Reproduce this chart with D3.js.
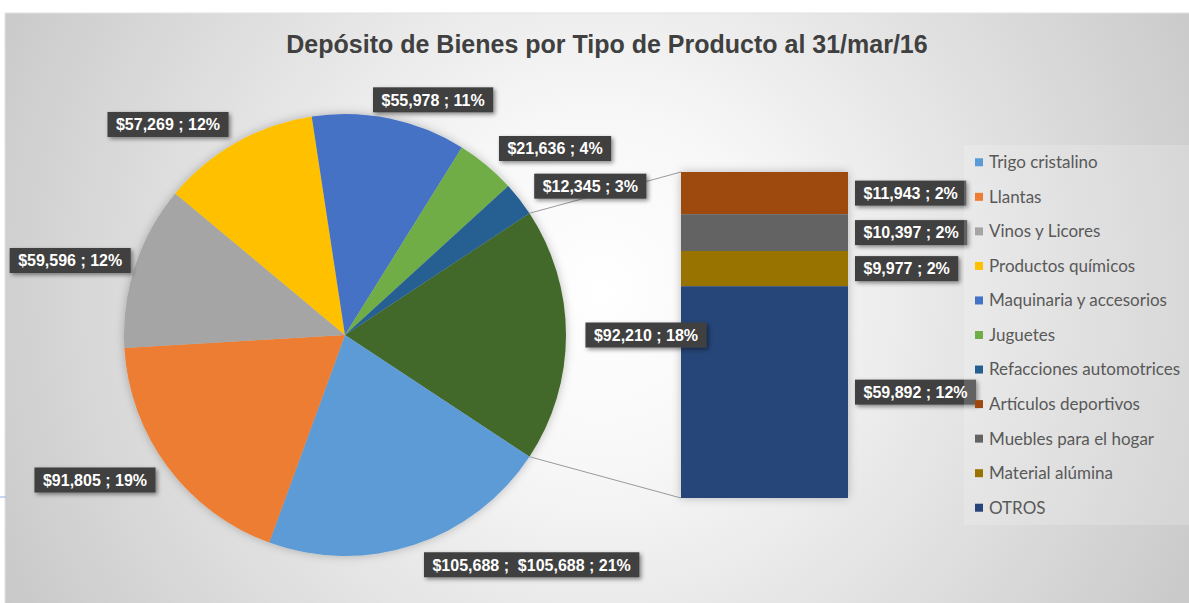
<!DOCTYPE html>
<html>
<head>
<meta charset="utf-8">
<script src="https://cdn.jsdelivr.net/npm/d3@7"></script>
<style>
  body { margin: 0; background: #fff; }
  .title { font-family: "Liberation Sans", Arial, sans-serif; font-weight: bold; font-size: 25px; fill: #404040; }
  .lbl text { font-family: "Liberation Sans", Arial, sans-serif; font-weight: bold; font-size: 16px; fill: #fff; }
  .legend text { font-family: Lato, "Open Sans", sans-serif; font-size: 17px; fill: #595959; }
</style>
</head>
<body>
<div id="chart"></div>
<script>
// ---- data ----
var pieNames = ['Trigo cristalino', 'Llantas', 'Vinos y Licores', 'Productos químicos',
                'Maquinaria y accesorios', 'Juguetes', 'Refacciones automotrices'];
var pieValues = [105688, 91805, 59596, 57269, 55978, 21636, 12345];
var piePct = [21, 19, 12, 12, 11, 4, 3];

var barNames = ['Artículos deportivos', 'Muebles para el hogar', 'Material alúmina', 'OTROS'];
var barValues = [11943, 10397, 9977, 59892];
var barPct = [2, 2, 2, 12];

var otherValue = 92210;
var otherPct = 18;

var title = 'Depósito de Bienes por Tipo de Producto al 31/mar/16';

// ---- styles / layout ----
var pieColors = ['#5b9bd5', '#ed7d31', '#a5a5a5', '#ffc000', '#4472c4', '#70ad47', '#255e91'];
var barColors = ['#9e480e', '#636363', '#997300', '#264478'];
var otherColor = '#43682b';

var width = 1189, height = 603;
var cx = 345, cy = 335, radius = 221;
var bar = { x: 681, w: 167, top: 172, bottom: 498 };
var labelRadius = 283;
// manual nudges of the pie labels (Other first, then the pie slices)
var labelNudge = [[18, 0], [98, -39], [-23, -24], [-6, 14], [-38, 36], [31, 42], [29, 31], [22, 25]];

var fmt = d3.format('$,');

var svg = d3.select('#chart').append('svg')
    .attr('width', width)
    .attr('height', height);

var defs = svg.append('defs');
var grad = defs.append('radialGradient')
    .attr('id', 'bg')
    .attr('gradientUnits', 'userSpaceOnUse')
    .attr('cx', 600).attr('cy', 290).attr('r', 720);
grad.append('stop').attr('offset', 0).attr('stop-color', '#ffffff');
grad.append('stop').attr('offset', 0.25).attr('stop-color', '#f7f7f7');
grad.append('stop').attr('offset', 1).attr('stop-color', '#c4c4c4');

var shadow = defs.append('filter').attr('id', 'shadow')
    .attr('x', '-20%').attr('y', '-40%').attr('width', '140%').attr('height', '180%');
shadow.append('feDropShadow').attr('dx', 2).attr('dy', 2).attr('stdDeviation', 2)
    .attr('flood-color', '#000').attr('flood-opacity', 0.45);

var softShadow = defs.append('filter').attr('id', 'soft')
    .attr('x', '-10%').attr('y', '-10%').attr('width', '120%').attr('height', '120%');
softShadow.append('feDropShadow').attr('dx', 0).attr('dy', 0).attr('stdDeviation', 5)
    .attr('flood-color', '#000').attr('flood-opacity', 0.25);

// chart area
svg.append('rect')
    .attr('x', 5).attr('y', 13)
    .attr('width', width).attr('height', height)
    .attr('fill', 'url(#bg)')
    .attr('stroke', '#e2e2e2');

// stray cell border at left
svg.append('line')
    .attr('x1', 0).attr('x2', 6).attr('y1', 497).attr('y2', 497)
    .attr('stroke', '#8fb4e3');

svg.append('text')
    .attr('class', 'title')
    .attr('x', 607).attr('y', 53)
    .attr('text-anchor', 'middle')
    .text(title);

// ---- pie ----
var total = d3.sum(pieValues) + otherValue;
var otherAngle = otherValue / total * 2 * Math.PI;
var start = Math.PI / 2 - otherAngle / 2;

var pieData = [{ name: 'other', value: otherValue, color: otherColor, pct: otherPct }]
    .concat(pieNames.map(function(n, i) {
        return { name: n, value: pieValues[i], color: pieColors[i], pct: piePct[i] };
    }));

var pie = d3.pie()
    .sort(null)
    .value(function(d) { return d.value; })
    .startAngle(start)
    .endAngle(start + 2 * Math.PI);

var arcs = pie(pieData);

var arc = d3.arc().innerRadius(0).outerRadius(radius);
var labelArc = d3.arc().innerRadius(labelRadius).outerRadius(labelRadius);

var g = svg.append('g')
    .attr('transform', 'translate(' + cx + ',' + cy + ')');

g.append('g')
    .attr('filter', 'url(#soft)')
    .selectAll('path')
    .data(arcs)
    .enter()
    .append('path')
    .attr('d', arc)
    .attr('fill', function(d) { return d.data.color; });

// ---- bar of the "other" slice ----
var yScale = d3.scaleLinear()
    .domain([0, d3.sum(barValues)])
    .range([bar.top, bar.bottom]);

var cum = 0;
var barData = barNames.map(function(n, i) {
    var d = { name: n, value: barValues[i], color: barColors[i], pct: barPct[i], y0: cum };
    cum += barValues[i];
    d.y1 = cum;
    return d;
});

// connector lines
var o = arcs[0];
var p0 = [cx + radius * Math.sin(o.startAngle), cy - radius * Math.cos(o.startAngle)];
var p1 = [cx + radius * Math.sin(o.endAngle), cy - radius * Math.cos(o.endAngle)];
svg.append('line')
    .attr('x1', p0[0]).attr('y1', p0[1])
    .attr('x2', bar.x).attr('y2', yScale(0))
    .attr('stroke', '#9a9a9a').attr('stroke-width', 1);
svg.append('line')
    .attr('x1', p1[0]).attr('y1', p1[1])
    .attr('x2', bar.x).attr('y2', yScale(d3.sum(barValues)))
    .attr('stroke', '#9a9a9a').attr('stroke-width', 1);

svg.append('g')
    .attr('filter', 'url(#soft)')
    .selectAll('rect')
    .data(barData)
    .enter()
    .append('rect')
    .attr('x', bar.x)
    .attr('width', bar.w)
    .attr('y', function(d) { return yScale(d.y0); })
    .attr('height', function(d) { return yScale(d.y1) - yScale(d.y0); })
    .attr('fill', function(d) { return d.color; });

// ---- data labels ----
function addLabel(x, y, txt, anchor) {
    var lg = svg.append('g').attr('class', 'lbl');
    var box = lg.append('rect').attr('fill', '#404040').attr('filter', 'url(#shadow)');
    var t = lg.append('text')
        .attr('x', x).attr('y', y)
        .attr('dy', '0.36em')
        .attr('text-anchor', anchor)
        .text(txt);
    var bb = t.node().getBBox();
    var padX = 8.5, h = 25;
    box.attr('x', bb.x - padX).attr('y', y - h / 2)
        .attr('width', bb.width + 2 * padX).attr('height', h);
}

arcs.forEach(function(d, i) {
    var c = labelArc.centroid(d);
    var txt = fmt(d.data.value) + ' ; ' + d.data.pct + '%';
    if (d.data.name === 'Trigo cristalino') txt = fmt(d.data.value) + ' ;\u00a0\u00a0' + txt;
    addLabel(cx + c[0] + labelNudge[i][0], cy + c[1] + labelNudge[i][1], txt, 'middle');
});

barData.forEach(function(d) {
    addLabel(bar.x + bar.w + 15.5, (yScale(d.y0) + yScale(d.y1)) / 2,
        fmt(d.value) + ' ; ' + d.pct + '%', 'start');
});

// ---- legend ----
var legendNames = pieNames.concat(barNames);
var legendColors = pieColors.concat(barColors);

svg.append('rect')
    .attr('x', 964).attr('y', 145)
    .attr('width', 240).attr('height', 380)
    .attr('fill', '#ffffff').attr('fill-opacity', 0.18);

var ly = d3.scaleBand()
    .domain(legendNames)
    .range([145, 525]);

var legend = svg.append('g').attr('class', 'legend');
var items = legend.selectAll('g')
    .data(legendNames)
    .enter()
    .append('g')
    .attr('transform', function(d) { return 'translate(975,' + (ly(d) + ly.bandwidth() / 2) + ')'; });

items.append('rect')
    .attr('x', 0).attr('y', -4)
    .attr('width', 8).attr('height', 8)
    .attr('fill', function(d, i) { return legendColors[i]; });

items.append('text')
    .attr('x', 14)
    .attr('dy', '0.35em')
    .text(function(d) { return d; });

</script>
</body>
</html>
